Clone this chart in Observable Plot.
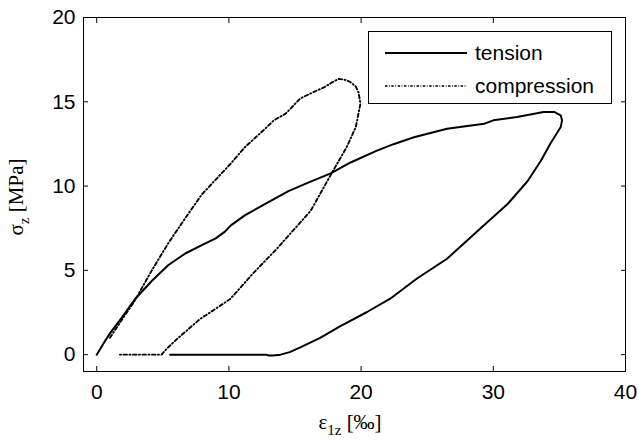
<!DOCTYPE html>
<html>
<head>
<meta charset="utf-8">
<script src="https://cdn.jsdelivr.net/npm/d3@7"></script>
<script src="https://cdn.jsdelivr.net/npm/@observablehq/plot@0.6"></script>
<style>
  body { margin: 0; background: #fff; }
  #chart svg { display: block; }
</style>
</head>
<body>
<div id="chart"></div>
<script>
// ---- Data ----
const seriesNames = ["tension", "compression"];

const tensionX = [0, 0.5, 1.0, 1.9, 2.9, 4.2, 5.4, 6.7, 7.95, 9.0, 9.7, 10.0, 10.2, 11.2, 12.75, 14.5, 16.0, 17.7, 19.2, 21.2, 22.5, 24.0, 26.5, 29.3, 29.5, 30.0, 31.8, 33.8, 34.6, 35.1, 35.2, 35.1, 34.3, 33.6, 32.6, 31.1, 29.0, 26.5, 24.2, 22.2, 20.45, 18.4, 16.9, 15.4, 14.6, 13.9, 13.3, 13.0, 12.8, 9.0, 5.55];
const tensionY = [0, 0.65, 1.26, 2.2, 3.3, 4.4, 5.3, 6.0, 6.5, 6.9, 7.3, 7.55, 7.7, 8.26, 8.95, 9.7, 10.2, 10.75, 11.4, 12.1, 12.5, 12.9, 13.4, 13.7, 13.75, 13.9, 14.1, 14.4, 14.4, 14.2, 13.9, 13.5, 12.5, 11.5, 10.3, 8.95, 7.47, 5.69, 4.5, 3.32, 2.53, 1.68, 1.0, 0.43, 0.15, 0, -0.05, -0.05, 0, 0, 0];

const compressionX = [1.0, 1.8, 2.8, 4.17, 5.4, 6.7, 7.95, 9.2, 10.1, 11.2, 12.6, 13.4, 14.3, 15.4, 16.2, 17.2, 17.8, 18.3, 18.8, 19.2, 19.6, 19.8, 19.95, 19.6, 18.9, 17.8, 16.8, 16.2, 15.4, 13.6, 11.9, 10.1, 7.8, 6.06, 5.3, 4.9, 1.75];
const compressionY = [1.0, 1.95, 3.1, 5.0, 6.6, 8.1, 9.5, 10.55, 11.3, 12.3, 13.3, 13.9, 14.3, 15.2, 15.5, 15.86, 16.15, 16.36, 16.3, 16.16, 15.9, 15.57, 14.9, 13.5, 12.3, 10.8, 9.4, 8.55, 7.84, 6.26, 4.88, 3.3, 2.1, 0.92, 0.35, 0, 0];

const xTicks = [0, 10, 20, 30, 40];
const yTicks = [0, 5, 10, 15, 20];

// ---- Tables built from the arrays ----
const tension = tensionX.map((x, i) => ({x, y: tensionY[i]}));
const compression = compressionX.map((x, i) => ({x, y: compressionY[i]}));

const dash = "3.5,2.5,1,2.5";
const sans = "'Liberation Sans', Arial, Helvetica, sans-serif";
const serif = "'Liberation Serif', 'Times New Roman', Times, serif";

const W = 639, H = 444;
const mL = 83, mR = 14, mT = 17, mB = 73;
const tk = 5;

const plot = Plot.plot({
  width: W,
  height: H,
  marginLeft: mL,
  marginRight: mR,
  marginTop: mT,
  marginBottom: mB,
  style: {fontFamily: sans, fontSize: "21px", color: "#000", background: "#fff"},
  x: {domain: [-1, 40]},
  y: {domain: [-1, 20]},
  marks: [
    Plot.line(tension, {x: "x", y: "y", stroke: "#000", strokeWidth: 2, strokeLinejoin: "round"}),
    Plot.line(compression, {x: "x", y: "y", stroke: "#000", strokeWidth: 1.9, strokeDasharray: dash, strokeLinejoin: "round"}),
    Plot.frame({stroke: "#000", strokeWidth: 1}),
    // tick labels
    Plot.axisX(xTicks, {anchor: "bottom", tickSize: 0, tickPadding: 13, label: null, fontSize: 21}),
    Plot.axisY(yTicks, {anchor: "left", tickSize: 0, tickPadding: 8, label: null, fontSize: 21}),
    // inward ticks on all four sides (outward ticks shifted inside)
    Plot.axisX(xTicks, {anchor: "bottom", tickSize: tk, dy: -tk, tickFormat: () => "", label: null}),
    Plot.axisX(xTicks, {anchor: "top", tickSize: tk, dy: tk, tickFormat: () => "", label: null}),
    Plot.axisY(yTicks, {anchor: "left", tickSize: tk, dx: tk, tickFormat: () => "", label: null}),
    Plot.axisY(yTicks, {anchor: "right", tickSize: tk, dx: -tk, tickFormat: () => "", label: null})
  ]
});

document.getElementById("chart").appendChild(plot);

// ---- Axis labels with subscripts ----
const svg = d3.select(plot);
const cx = (mL + (W - mR)) / 2;
const cy = (mT + (H - mB)) / 2;

const xl = svg.append("text")
  .attr("x", cx - 4).attr("y", 429)
  .attr("text-anchor", "middle")
  .style("font-family", serif).style("font-size", "21px").attr("fill", "#000");
xl.append("tspan").text("ε");
xl.append("tspan").attr("dy", 6).style("font-size", "15px").text("1z");
xl.append("tspan").attr("dy", -6).text(" [‰]");

const yl = svg.append("text")
  .attr("transform", `translate(23,${cy + 3}) rotate(-90)`)
  .attr("text-anchor", "middle")
  .style("font-family", serif).style("font-size", "21px").attr("fill", "#000");
yl.append("tspan").text("σ");
yl.append("tspan").attr("dy", 6).style("font-size", "15px").text("z");
yl.append("tspan").attr("dy", -6).text(" [MPa]");

// ---- Legend box ----
const lg = svg.append("g");
lg.append("rect")
  .attr("x", 368.5).attr("y", 31.5).attr("width", 243).attr("height", 72)
  .attr("fill", "#fff").attr("stroke", "#000").attr("stroke-width", 1);
const styles = [{w: 2, d: null}, {w: 1.4, d: "2.5,1.5,0.8,1.5"}];
seriesNames.forEach((name, i) => {
  const yy = 53 + i * 33;
  const ln = lg.append("line")
    .attr("x1", 385).attr("x2", 467).attr("y1", yy).attr("y2", yy)
    .attr("stroke", "#000").attr("stroke-width", styles[i].w);
  if (styles[i].d) ln.attr("stroke-dasharray", styles[i].d);
  lg.append("text")
    .attr("x", 475).attr("y", yy).attr("dy", "0.35em")
    .attr("text-anchor", "start")
    .style("font-family", sans).style("font-size", "21px").attr("fill", "#000")
    .text(name);
});
</script>
</body>
</html>
